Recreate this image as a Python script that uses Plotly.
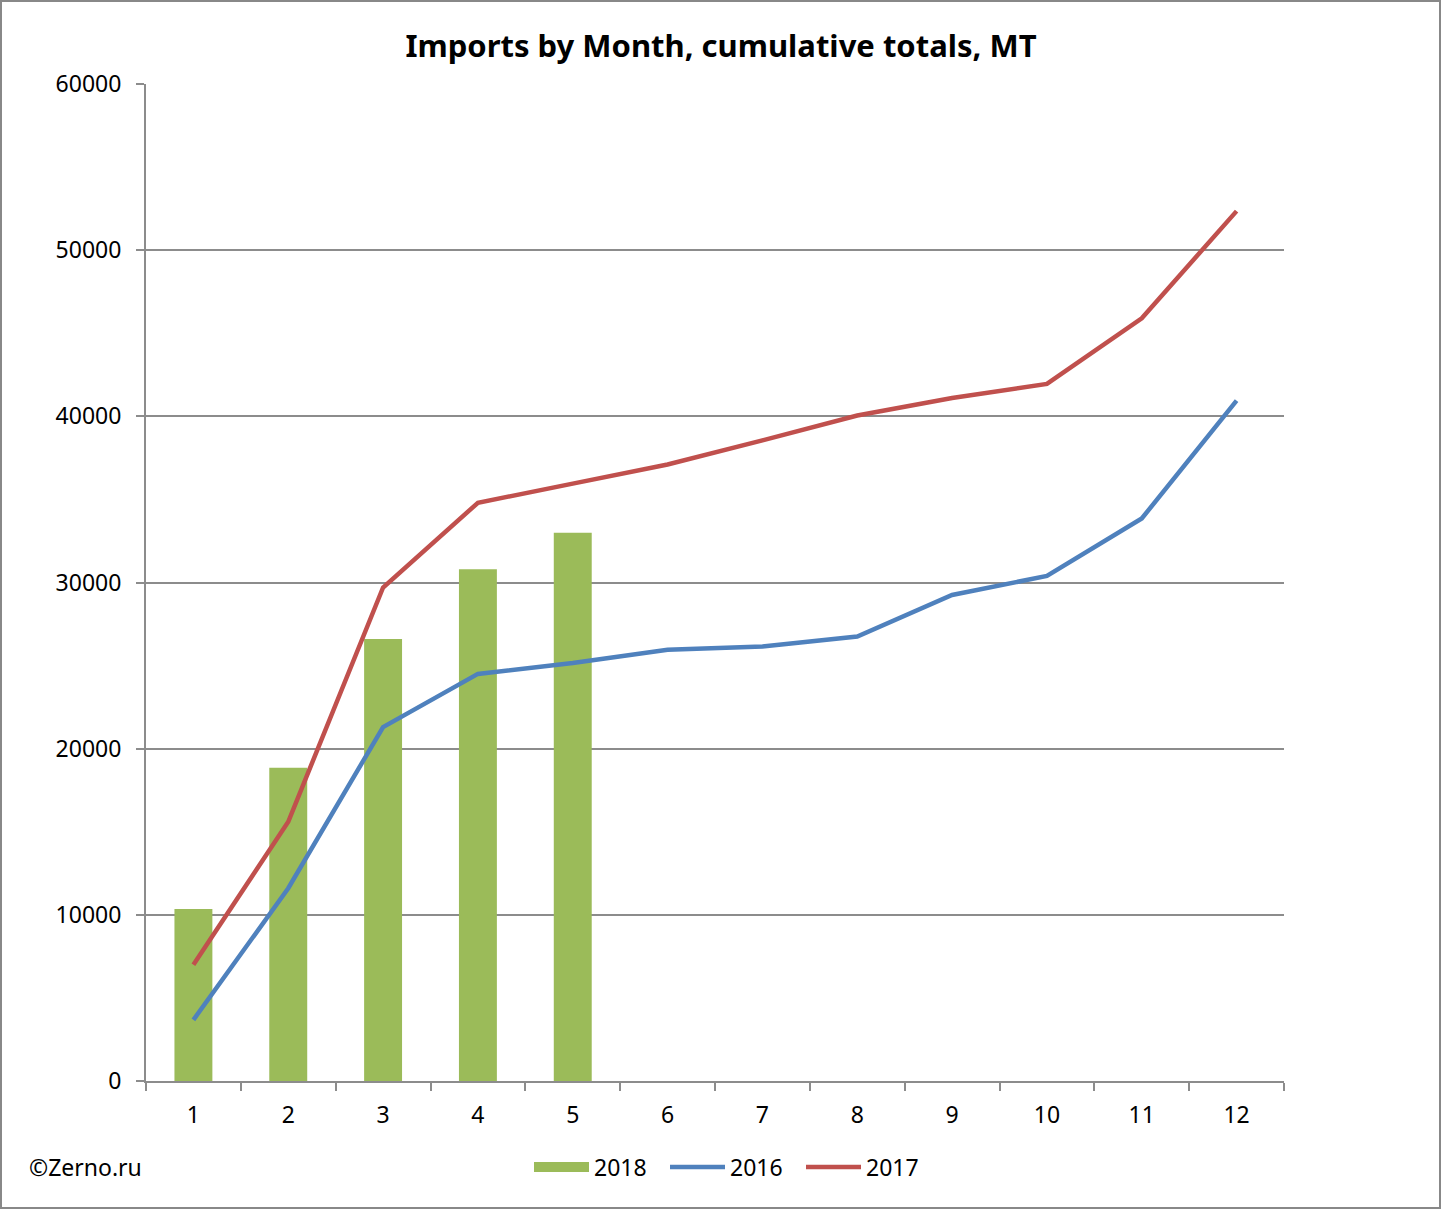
import plotly.graph_objects as go

months = [str(i) for i in range(1, 13)]
months_2018 = ["1", "2", "3", "4", "5"]
imports_2018 = [10350, 18850, 26600, 30800, 33000]
imports_2016 = [3680, 11600, 21300, 24500, 25150, 25950, 26150, 26750, 29250, 30400, 33850, 40950]
imports_2017 = [7000, 15600, 29700, 34800, 35950, 37100, 38550, 40050, 41100, 41950, 45900, 52350]
y_ticks = [0, 10000, 20000, 30000, 40000, 50000, 60000]

W, H = 1442, 1210
L, R, T, B = 146, 158, 84, 129
pw, ph = W - L - R, H - T - B

font = "Noto Sans"
grid = "#8c8c8c"
green, blue, red = "#9BBB59", "#4F81BD", "#C0504D"

fig = go.Figure()
fig.add_trace(go.Bar(x=months_2018, y=imports_2018, name="2018", marker_color=green,
                     marker_line_width=0, showlegend=False))
fig.add_trace(go.Scatter(x=[None], y=[None], name="2018", mode="lines",
                         line=dict(color=green, width=15)))
fig.add_trace(go.Scatter(x=months, y=imports_2016, name="2016", mode="lines",
                         line=dict(color=blue, width=4.5)))
fig.add_trace(go.Scatter(x=months, y=imports_2017, name="2017", mode="lines",
                         line=dict(color=red, width=4.5)))

def px2x(p):
    return (p - L) / pw

def px2y(p):
    return (H - B - p) / ph

fig.update_layout(
    width=W, height=H,
    margin=dict(l=L, r=R, t=T, b=B, autoexpand=False),
    paper_bgcolor="white", plot_bgcolor="white",
    font=dict(family=font, size=23, color="black"),
    title=dict(text="<b>Imports by Month, cumulative totals, MT</b>", x=0.5, xanchor="center",
               y=1 - 46 / H, yanchor="middle", font=dict(size=31, family=font)),
    bargap=0.6,
    showlegend=True,
    legend=dict(orientation="h", x=px2x(529), xanchor="left", y=px2y(1167), yanchor="middle",
                font=dict(size=23), traceorder="normal", itemwidth=55, entrywidth=66,
                entrywidthmode="pixels", bgcolor="rgba(0,0,0,0)"),
    xaxis=dict(type="category", categoryorder="array", categoryarray=months,
               range=[-0.5, 11.5], showgrid=False, showline=True, linecolor=grid, linewidth=2,
               ticks="outside", tickson="boundaries", ticklen=8, tickcolor=grid, tickwidth=2,
               ticklabelstandoff=12, zeroline=False),
    yaxis=dict(range=[0, 60000], tickvals=y_ticks, showgrid=True, gridcolor=grid, gridwidth=2,
               showline=True, linecolor=grid, linewidth=2, ticks="outside", ticklen=8,
               tickcolor=grid, tickwidth=2, ticklabelstandoff=10, zeroline=False,
               tickformat="d"),
    shapes=[dict(type="rect", xref="paper", yref="paper",
                 x0=px2x(1), x1=px2x(W - 2), y0=px2y(H - 2), y1=px2y(1),
                 line=dict(color="#888888", width=2), fillcolor="rgba(0,0,0,0)", layer="below")],
    annotations=[dict(text="©Zerno.ru", xref="paper", yref="paper", x=px2x(27), y=px2y(1167),
                      xanchor="left", yanchor="middle", showarrow=False, font=dict(size=23))],
)

fig.write_html("out.html", config={"displayModeBar": False},
               post_script="document.body.style.margin='0';document.body.style.overflow='hidden';")
